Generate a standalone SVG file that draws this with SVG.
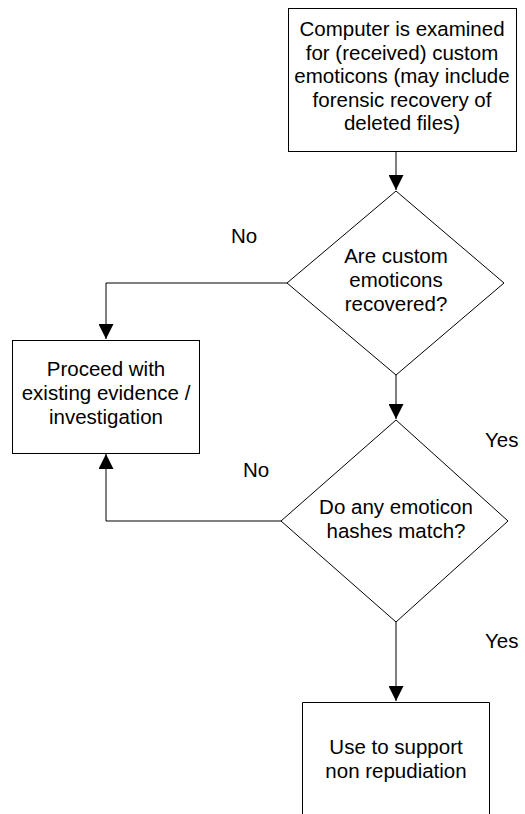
<svg xmlns="http://www.w3.org/2000/svg" width="525" height="814" viewBox="0 0 525 814">
<style>
.shape{fill:#fff;stroke:#000;stroke-width:1}
.conn{fill:none;stroke:#000;stroke-width:1}
text{font-family:"Liberation Sans",Arial,sans-serif;font-size:20.5px;fill:#000}
.c{text-anchor:middle}
</style>
<defs>
<marker id="arr" markerWidth="15" markerHeight="15" refX="15" refY="7.5" orient="auto" markerUnits="userSpaceOnUse" viewBox="0 0 15 15">
<path d="M0,0 L15,7.5 L0,15 Z" fill="#000"/>
</marker>
</defs>
<rect width="525" height="814" fill="#fff"/>
<g id="connectors">
<path class="conn" d="M396,151 V190" marker-end="url(#arr)"/>
<path class="conn" d="M287,283 H106 V339" marker-end="url(#arr)"/>
<path class="conn" d="M396,375 V419" marker-end="url(#arr)"/>
<path class="conn" d="M281,521 H106 V454" marker-end="url(#arr)"/>
<path class="conn" d="M396,622 V701" marker-end="url(#arr)"/>
</g>
<g id="n1">
<rect class="shape" x="288.5" y="8.5" width="228" height="143"/>
<text class="c" x="402" y="36">Computer is examined</text>
<text class="c" x="402" y="59.5">for (received) custom</text>
<text class="c" x="402" y="83">emoticons (may include</text>
<text class="c" x="402" y="106.5">forensic recovery of</text>
<text class="c" x="402" y="130">deleted files)</text>
</g>
<g id="d1">
<polygon class="shape" points="396,191 504,283 396,375 287,283"/>
<text class="c" x="396" y="263">Are custom</text>
<text class="c" x="396" y="287">emoticons</text>
<text class="c" x="396" y="311">recovered?</text>
</g>
<g id="n2">
<rect class="shape" x="12.5" y="340.5" width="187" height="113"/>
<text class="c" x="106" y="376">Proceed with</text>
<text class="c" x="106" y="400">existing evidence /</text>
<text class="c" x="106" y="424">investigation</text>
</g>
<g id="d2">
<polygon class="shape" points="396,420 508,521 396,622 281,521"/>
<text class="c" x="396" y="514">Do any emoticon</text>
<text class="c" x="396" y="538">hashes match?</text>
</g>
<g id="n3">
<path class="shape" d="M302.5,814 V702.5 H489.5 V814"/>
<text class="c" x="396" y="754">Use to support</text>
<text class="c" x="396" y="778">non repudiation</text>
</g>
<g id="labels">
<text x="231" y="243">No</text>
<text x="485" y="447">Yes</text>
<text x="243" y="477">No</text>
<text x="485" y="648">Yes</text>
</g>
</svg>
